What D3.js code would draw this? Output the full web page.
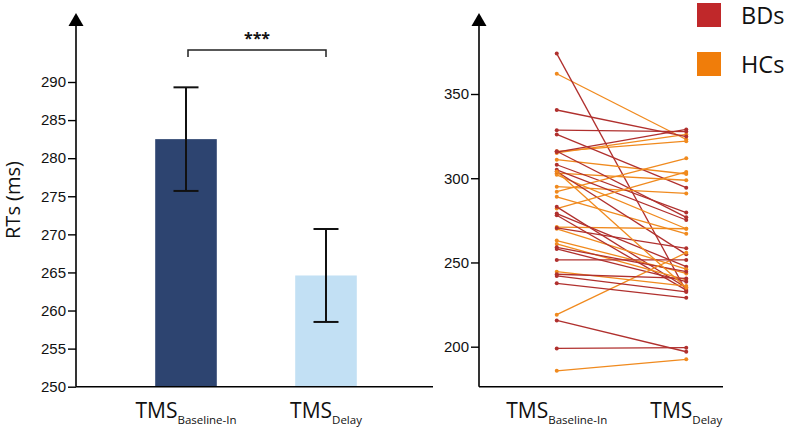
<!DOCTYPE html>
<html>
<head>
<meta charset="utf-8">
<script src="https://cdn.jsdelivr.net/npm/d3@7"></script>
<style>
	body { margin: 0; background: #fff; }
	svg { display: block; font-family: "Open Sans", "Noto Sans", sans-serif; }
</style>
</head>
<body>
<svg id="chart" width="787" height="431"></svg>
<script>
// conditions (left bar chart + right paired plot)
var conditions = ["Baseline-In", "Delay"];
var meanRT = [282.5, 264.6];
var errLow = [275.7, 258.5];
var errHigh = [289.3, 270.7];
var barColors = ["#2d4470", "#c2e0f4"];
var leftTicks = [250, 255, 260, 265, 270, 275, 280, 285, 290];
var rightTicks = [200, 250, 300, 350];

// individual RTs, BDs (bipolar) and HCs (controls)
var bdBaseline = [374, 340.5, 328.5, 326, 315.5, 316, 308, 305, 304, 283, 279, 278, 270.5, 259, 258, 251.5, 243, 242, 237.6, 215.6, 199];
var bdDelay    = [233, 324.7, 327.7, 294.4, 329, 276.8, 279.6, 275.2, 254.8, 235, 247.5, 233.6, 258.4, 244.5, 238.6, 251.5, 240.5, 232.5, 229, 197, 199.4];
var hcBaseline = [362, 315, 316, 311, 303, 302, 295, 292, 289, 282, 271, 270, 263, 261, 244.5, 219, 185.7, 304];
var hcDelay    = [323, 326, 322, 302.5, 298.8, 270, 291, 311.8, 267, 303.7, 270, 246, 243.5, 239.6, 236, 255.8, 192.5, 235];

var groups = ["BDs", "HCs"];
var groupColors = { BDs: "#c0282a", HCs: "#f07d0a" };
var lineColors = { BDs: "#b0302e", HCs: "#f08a1e" };

(function(){
	'use strict';

	var svg = d3.select("#chart");
	var baseY = 386.7;
	var axisTop = 25;

	function arrow(g, x){
		g.append("line")
			.attr("x1", x).attr("x2", x)
			.attr("y1", baseY).attr("y2", axisTop)
			.attr("stroke", "#000").attr("stroke-width", 1.6);
		g.append("path")
			.attr("d", "M" + (x - 7.5) + "," + (axisTop + 1) + "L" + x + "," + (axisTop - 12) + "L" + (x + 7.5) + "," + (axisTop + 1) + "Z")
			.attr("fill", "#000");
	}

	function styleAxis(g){
		g.select(".domain").remove();
		g.selectAll(".tick line").attr("stroke", "#000").attr("stroke-width", 1.4);
		g.selectAll(".tick text").attr("fill", "#111").attr("font-size", 15);
	}

	function tmsLabel(g, x, sub){
		var t = g.append("text")
			.attr("x", x).attr("y", 418)
			.attr("text-anchor", "middle")
			.attr("fill", "#111");
		t.append("tspan").attr("font-size", 21).text("TMS");
		t.append("tspan").attr("font-size", 11.5).attr("dy", 6).text(sub);
	}

	// ---------- left panel: mean RTs ----------
	var left = svg.append("g");
	var xL = d3.scaleBand().domain(conditions).range([116, 396]);
	var yL = d3.scaleLinear().domain([250, 290]).range([baseY, 82]);

	left.selectAll("rect.bar")
		.data(conditions)
	.enter().append("rect")
		.attr("class", "bar")
		.attr("x", function(d){ return xL(d) + xL.bandwidth() * 0.28; })
		.attr("width", xL.bandwidth() * 0.44)
		.attr("y", function(d, i){ return yL(meanRT[i]); })
		.attr("height", function(d, i){ return baseY - yL(meanRT[i]); })
		.attr("fill", function(d, i){ return barColors[i]; });

	// error bars
	var err = left.selectAll("g.err")
		.data(conditions)
	.enter().append("g")
		.attr("class", "err")
		.attr("stroke", "#111")
		.attr("stroke-width", 2);
	err.append("line")
		.attr("x1", function(d){ return xL(d) + xL.bandwidth() / 2; })
		.attr("x2", function(d){ return xL(d) + xL.bandwidth() / 2; })
		.attr("y1", function(d, i){ return yL(errLow[i]); })
		.attr("y2", function(d, i){ return yL(errHigh[i]); });
	[errLow, errHigh].forEach(function(arr){
		err.append("line")
			.attr("x1", function(d){ return xL(d) + xL.bandwidth() / 2 - 12.5; })
			.attr("x2", function(d){ return xL(d) + xL.bandwidth() / 2 + 12.5; })
			.attr("y1", function(d, i){ return yL(arr[i]); })
			.attr("y2", function(d, i){ return yL(arr[i]); });
	});

	// axes
	var yAxisL = left.append("g")
		.attr("transform", "translate(76,0)")
		.call(d3.axisLeft(yL).tickValues(leftTicks).tickSize(8).tickPadding(2).tickSizeOuter(0));
	styleAxis(yAxisL);
	arrow(left, 76);
	left.append("line")
		.attr("x1", 76).attr("x2", 433)
		.attr("y1", baseY).attr("y2", baseY)
		.attr("stroke", "#000").attr("stroke-width", 1.6);

	left.append("text")
		.attr("transform", "translate(20,200) rotate(-90)")
		.attr("text-anchor", "middle")
		.attr("font-size", 20)
		.attr("fill", "#111")
		.text("RTs (ms)");

	conditions.forEach(function(c){
		tmsLabel(left, xL(c) + xL.bandwidth() / 2, c);
	});

	// significance bracket
	var x0 = xL(conditions[0]) + xL.bandwidth() / 2 + 2;
	var x1 = xL(conditions[1]) + xL.bandwidth() / 2;
	left.append("path")
		.attr("d", "M" + x0 + ",57V50H" + x1 + "V57")
		.attr("fill", "none")
		.attr("stroke", "#222")
		.attr("stroke-width", 1.5);
	left.append("text")
		.attr("x", (x0 + x1) / 2)
		.attr("y", 44)
		.attr("text-anchor", "middle")
		.attr("font-size", 16)
		.attr("font-weight", "bold")
		.attr("fill", "#111")
		.text("***");

	// ---------- right panel: individual RTs ----------
	var right = svg.append("g");
	var xR = d3.scaleBand().domain(conditions).range([492, 751]);
	var yR = d3.scaleLinear().domain([176.25, 350]).range([baseY, 94]);
	var cx = function(c){ return xR(c) + xR.bandwidth() / 2; };

	var subjects = [];
	var nMax = Math.max(bdBaseline.length, hcBaseline.length);
	for(var i = 0; i < nMax; i++){
		if(i < hcBaseline.length) subjects.push({group: "HCs", v: [hcBaseline[i], hcDelay[i]]});
		if(i < bdBaseline.length) subjects.push({group: "BDs", v: [bdBaseline[i], bdDelay[i]]});
	}

	var line = d3.line()
		.x(function(d, i){ return cx(conditions[i]); })
		.y(function(d){ return yR(d); });

	var subj = right.selectAll("g.subj")
		.data(subjects)
	.enter().append("g")
		.attr("class", "subj");
	subj.append("path")
		.attr("d", function(d){ return line(d.v); })
		.attr("fill", "none")
		.attr("stroke", function(d){ return lineColors[d.group]; })
		.attr("stroke-width", 1.3);
	subj.selectAll("circle")
		.data(function(d){ return d.v.map(function(v){ return {v: v, group: d.group}; }); })
	.enter().append("circle")
		.attr("cx", function(d, i){ return cx(conditions[i]); })
		.attr("cy", function(d){ return yR(d.v); })
		.attr("r", 2)
		.attr("fill", function(d){ return lineColors[d.group]; });

	var yAxisR = right.append("g")
		.attr("transform", "translate(479,0)")
		.call(d3.axisLeft(yR).tickValues(rightTicks).tickSize(8).tickPadding(2).tickSizeOuter(0));
	styleAxis(yAxisR);
	arrow(right, 479);
	right.append("line")
		.attr("x1", 479).attr("x2", 723)
		.attr("y1", baseY).attr("y2", baseY)
		.attr("stroke", "#000").attr("stroke-width", 1.6);

	conditions.forEach(function(c){
		tmsLabel(right, cx(c), c);
	});

	// legend
	var legend = right.selectAll("g.legend")
		.data(groups)
	.enter().append("g")
		.attr("class", "legend")
		.attr("transform", function(d, i){ return "translate(697," + (3 + i * 49) + ")"; });
	legend.append("rect")
		.attr("width", 24).attr("height", 24)
		.attr("fill", function(d){ return groupColors[d]; });
	legend.append("text")
		.attr("x", 44).attr("y", 20.5)
		.attr("font-size", 23.5)
		.attr("fill", "#111")
		.text(function(d){ return d; });
}());
</script>
</body>
</html>
